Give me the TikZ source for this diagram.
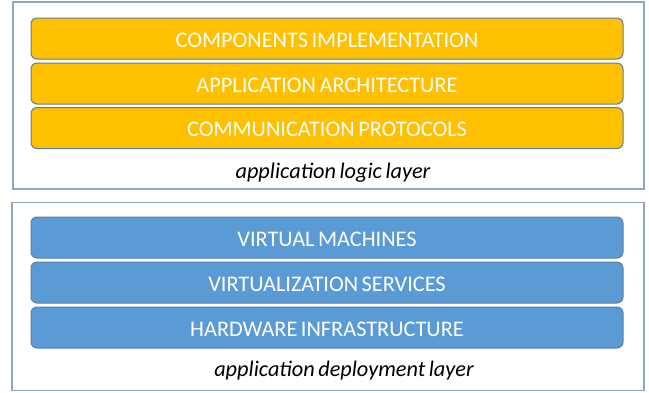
\documentclass[tikz,border=0pt]{standalone}
\usepackage{fontspec}
\setmainfont{Carlito}[WordSpace=0.7]
\definecolor{orangefill}{HTML}{FFC000}
\definecolor{bluefill}{HTML}{5B9BD5}
\definecolor{barline}{HTML}{5A7FA3}
\definecolor{boxline}{HTML}{8FA8C0}
\tikzset{
  layerbox/.style={draw=boxline, line width=1.2pt, fill=white},
  orangebar/.style={draw=barline, line width=1pt, fill=orangefill, rounded corners=6pt, text=white,
    minimum width=592pt, minimum height=41pt, inner sep=0pt, font=\fontsize{22.3}{25}\selectfont,
    text height=17pt, text depth=0pt},
  bluebar/.style={orangebar, fill=bluefill},
  caption/.style={font=\fontsize{22.3}{25}\selectfont\itshape, text=black, inner sep=0pt}
}
\begin{document}
\begin{tikzpicture}[x=1pt,y=-1pt]
\useasboundingbox (0,0) rectangle (649,392);
\node[layerbox, minimum width=631pt, minimum height=187pt, inner sep=0pt] (top) at (328.5,95.5) {};
\node[layerbox, minimum width=632pt, minimum height=188pt, inner sep=0pt] (bottom) at (328,296.5) {};
\node[orangebar] (comp) at (327,38.5) {COMPONENTS IMPLEMENTATION};
\node[orangebar] (arch) at (327,83.5) {APPLICATION ARCHITECTURE};
\node[orangebar] (comm) at (327,128) {COMMUNICATION PROTOCOLS};
\node[caption] (logic) at (333,173) {application logic layer};
\node[bluebar] (vm) at (327,237.5) {VIRTUAL MACHINES};
\node[bluebar] (virt) at (327,282.5) {VIRTUALIZATION SERVICES};
\node[bluebar] (hw) at (327,327.5) {HARDWARE INFRASTRUCTURE};
\node[caption] (deploy) at (344,371) {application deployment layer};
\end{tikzpicture}
\end{document}
